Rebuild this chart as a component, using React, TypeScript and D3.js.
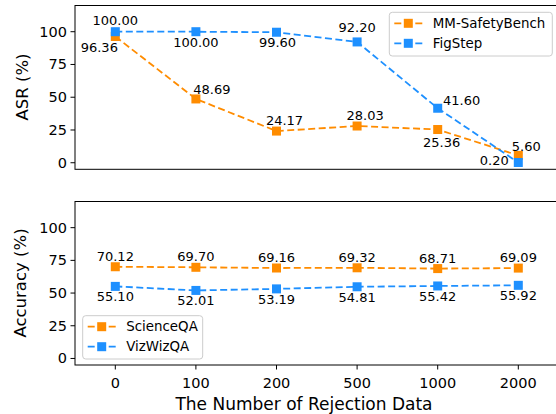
import React from 'react';
import * as d3 from 'd3';

const categories = ['0', '100', '200', '500', '1000', '2000'];
const mmSafety = [96.36, 48.69, 24.17, 28.03, 25.36, 5.6];
const figStep = [100.0, 100.0, 99.6, 92.2, 41.6, 0.2];
const scienceQA = [70.12, 69.7, 69.16, 69.32, 68.71, 69.09];
const vizWizQA = [55.1, 52.01, 53.19, 54.81, 55.42, 55.92];
const yTicks = [0, 25, 50, 75, 100];

// label placement hints (offset of label centre from the marker)
const mmLabelOff: [number, number][] = [[-16, 11], [16, -9], [8, -11], [8, -11], [4, 13], [8, -9]];
const figLabelOff: [number, number][] = [[0, -11.5], [0, 11], [1, 10.5], [0, -14], [24, -8], [-24, -2]];
const sciLabelOff: [number, number][] = categories.map(() => [0, -10.5]);
const vizLabelOff: [number, number][] = categories.map(() => [0, 10.5]);

const ORANGE = '#FF8C00';
const BLUE = '#1E90FF';
const FONT = 'DejaVu Sans, sans-serif';

const W = 556;
const H = 414;
const left = 75;
const right = 558.6;

const x = d3.scaleLinear().domain([-0.5, 5.5]).range([left, right]);
const yTop = d3.scaleLinear().domain([-5, 120]).range([169.3, 5.5]);
const yBot = d3.scaleLinear().domain([-5, 120]).range([365, 201.5]);

type Series = { name: string; values: number[]; color: string; offs: [number, number][] };

function Panel({ y, series, showX }: { y: d3.ScaleLinear<number, number>; series: Series[]; showX: boolean }) {
  const [y0, y1] = y.range();
  const line = d3
    .line<number>()
    .x((_, i) => x(i))
    .y((v) => y(v));
  const ms = 9;
  return (
    <g>
      {yTicks.map((t) => (
        <g key={t}>
          <line x1={left - 4.5} x2={left} y1={y(t)} y2={y(t)} stroke="#000" strokeWidth={1} />
          <text x={left - 8} y={y(t)} textAnchor="end" dominantBaseline="central" fontSize={14.5} fontFamily={FONT}>
            {t}
          </text>
        </g>
      ))}
      {showX &&
        categories.map((c, i) => (
          <g key={c}>
            <line x1={x(i)} x2={x(i)} y1={y0} y2={y0 + 4.5} stroke="#000" strokeWidth={1} />
            <text x={x(i)} y={y0 + 18} textAnchor="middle" dominantBaseline="central" fontSize={14.5} fontFamily={FONT}>
              {c}
            </text>
          </g>
        ))}
      {series.map((s) => (
        <g key={s.name}>
          <path d={line(s.values) || ''} fill="none" stroke={s.color} strokeWidth={1.8} strokeDasharray="7,3.5" />
          {s.values.map((v, i) => (
            <rect key={i} x={x(i) - ms / 2} y={y(v) - ms / 2} width={ms} height={ms} fill={s.color} />
          ))}
        </g>
      ))}
      {series.map((s) =>
        s.values.map((v, i) => (
          <text
            key={s.name + i}
            x={x(i) + s.offs[i][0]}
            y={y(v) + s.offs[i][1]}
            textAnchor="middle"
            dominantBaseline="central"
            fontSize={13}
            fontFamily={FONT}
          >
            {v.toFixed(2)}
          </text>
        ))
      )}
      <rect x={left} y={y1} width={right - left} height={y0 - y1} fill="none" stroke="#000" strokeWidth={1} />
    </g>
  );
}

function Legend({ x0, y0, w, h, series }: { x0: number; y0: number; w: number; h: number; series: Series[] }) {
  return (
    <g>
      <rect x={x0} y={y0} width={w} height={h} rx={3} fill="#fff" fillOpacity={0.8} stroke="#ccc" strokeWidth={1} />
      {series.map((s, i) => {
        const cy = y0 + 11 + i * 20;
        return (
          <g key={s.name}>
            <line x1={x0 + 5} x2={x0 + 33} y1={cy} y2={cy} stroke={s.color} strokeWidth={1.8} strokeDasharray="7,3.5" />
            <rect x={x0 + 19 - 4.5} y={cy - 4.5} width={9} height={9} fill={s.color} />
            <text x={x0 + 43.5} y={cy} dominantBaseline="central" fontSize={13.4} fontFamily={FONT}>
              {s.name}
            </text>
          </g>
        );
      })}
    </g>
  );
}

export default function App() {
  const topSeries: Series[] = [
    { name: 'MM-SafetyBench', values: mmSafety, color: ORANGE, offs: mmLabelOff },
    { name: 'FigStep', values: figStep, color: BLUE, offs: figLabelOff },
  ];
  const botSeries: Series[] = [
    { name: 'ScienceQA', values: scienceQA, color: ORANGE, offs: sciLabelOff },
    { name: 'VizWizQA', values: vizWizQA, color: BLUE, offs: vizLabelOff },
  ];
  return (
    <svg width={W} height={H} style={{ position: 'absolute', left: 0, top: 0, background: '#fff' }}>
      <rect width={W} height={H} fill="#fff" />
      <Panel y={yTop} series={topSeries} showX={false} />
      <Panel y={yBot} series={botSeries} showX={true} />
      <Legend x0={389.3} y0={12.3} w={163} h={43.7} series={topSeries} />
      <Legend x0={82.7} y0={315.7} w={120} h={43.3} series={botSeries} />
      <text transform="translate(22,87) rotate(-90)" textAnchor="middle" dominantBaseline="central" fontSize={16.5} fontFamily={FONT}>
        ASR (%)
      </text>
      <text transform="translate(20,283) rotate(-90)" textAnchor="middle" dominantBaseline="central" fontSize={16.5} fontFamily={FONT}>
        Accuracy (%)
      </text>
      <text x={304} y={404} textAnchor="middle" dominantBaseline="central" fontSize={17} fontFamily={FONT}>
        The Number of Rejection Data
      </text>
    </svg>
  );
}
